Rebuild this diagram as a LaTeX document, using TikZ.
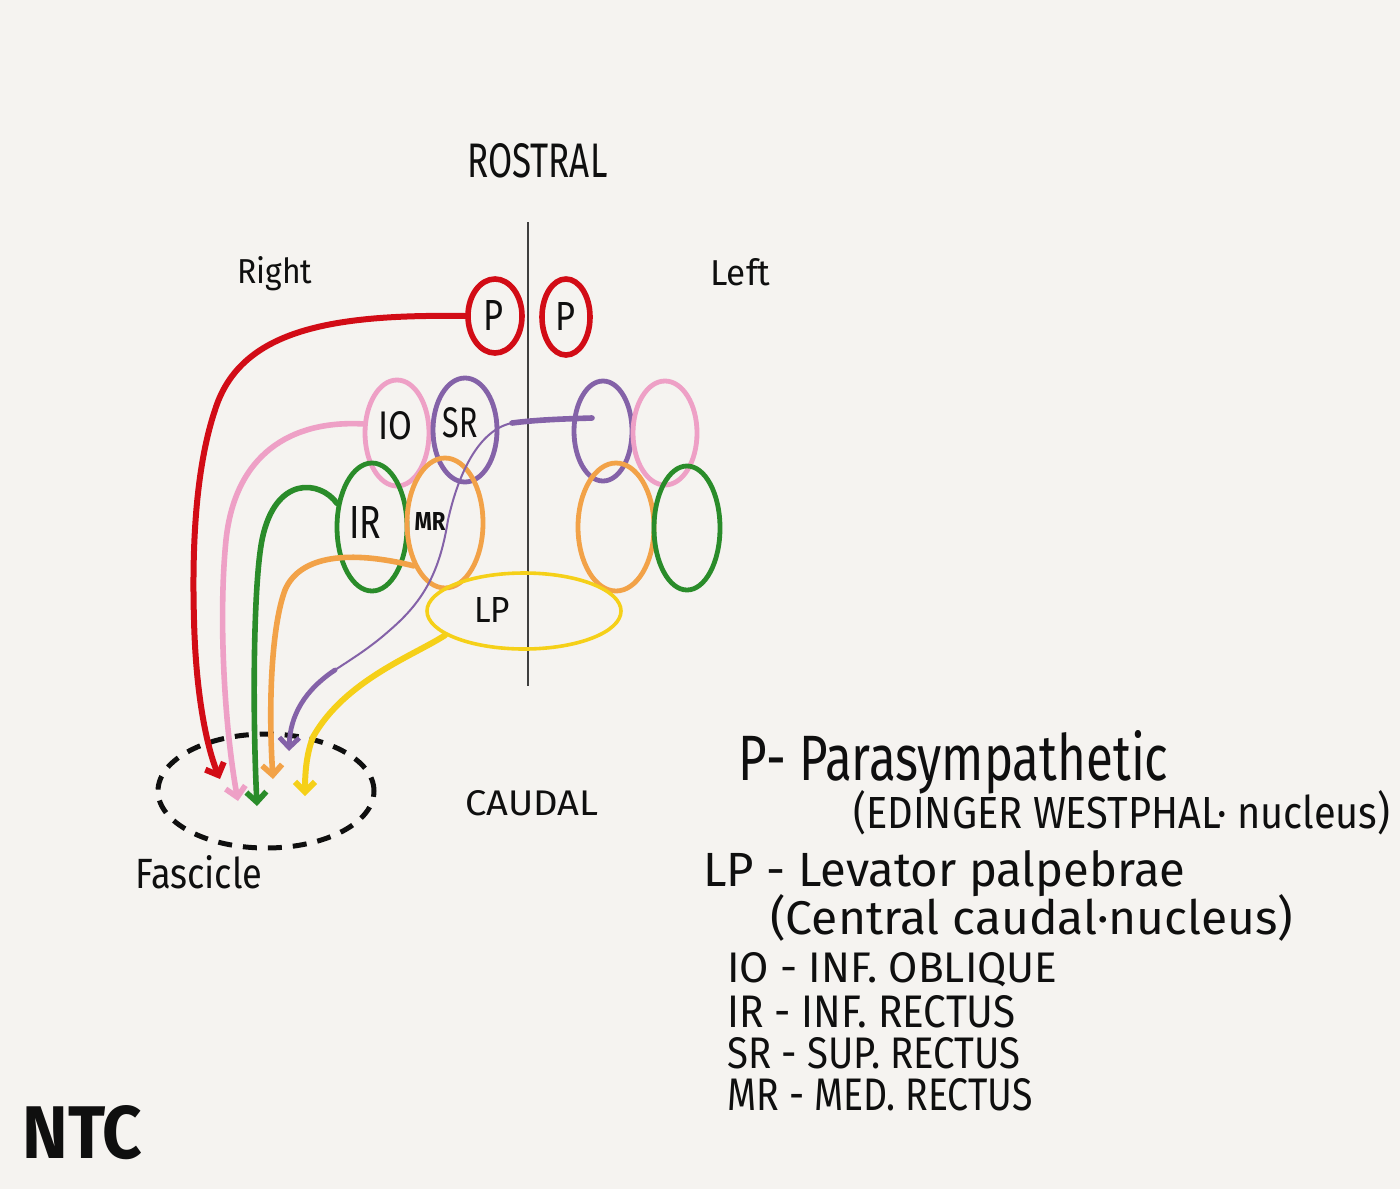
\documentclass[tikz,border=0pt]{standalone}
\usepackage{fontspec}
\setmainfont{Fira Sans}
\usetikzlibrary{shapes.geometric,arrows.meta}
\newdimen\pxu \pxu=0.5pt
\newcommand\hw[3]{\resizebox{#1\pxu}{#2\pxu}{#3}}
\definecolor{paper}{RGB}{245,243,240}
\definecolor{cred}{RGB}{210,12,22}
\definecolor{cpink}{RGB}{238,160,198}
\definecolor{cpurple}{RGB}{132,98,168}
\definecolor{cgreen}{RGB}{42,140,42}
\definecolor{corange}{RGB}{242,162,72}
\definecolor{cyellow}{RGB}{245,208,25}
\definecolor{ink}{RGB}{15,15,15}
\begin{document}
\begin{tikzpicture}[x=0.5pt,y=-0.5pt,
  ov/.style={ellipse, draw, line width=2.4pt, inner sep=0pt},
  lab/.style={inner sep=0pt, text=ink},
  txt/.style={anchor=base west, inner sep=0pt, text=ink},
  conn/.style={line width=2.8pt, line cap=round},
  arr/.style={-{Straight Barb[length=5pt,width=10pt]}}
]
\fill[paper] (0,0) rectangle (1400,1189);
\useasboundingbox (0,0) rectangle (1400,1189);

% midline
\coordinate (mtop) at (528,222);
\coordinate (mbot) at (528,686);
\draw[line width=0.8pt, ink!80] (mtop) -- (mbot);

% headings
\node[txt] (rostral) at (467,177) {\hw{140}{34}{ROSTRAL}};
\node[txt] (right) at (237,283) {\hw{75}{27}{Right}};
\node[txt] (left) at (710,285) {\hw{60}{27}{Left}};
\node[txt] (caudal) at (465,815) {\hw{133}{25}{CAUDAL}};
\node[txt] (fascicle) at (135,888) {\hw{127}{33}{Fascicle}};
\node[txt] (ntc) at (22,1158) {\hw{120}{53}{\bfseries NTC}};

% nuclei, right side
\node[ov, draw=cred, line width=2.8pt, minimum width=27pt, minimum height=37pt] (rP) at (495,316) {};
\node[ov, draw=cpink, minimum width=32pt, minimum height=53pt] (rIO) at (397,433) {};
\node[ov, draw=cpurple, minimum width=32pt, minimum height=52pt] (rSR) at (465,430) {};
\node[ov, draw=cgreen, minimum width=35pt, minimum height=64pt] (rIR) at (372,527) {};
\node[ov, draw=corange, minimum width=38pt, minimum height=65pt] (rMR) at (445,523) {};
% nuclei, left side
\node[ov, draw=cred, line width=2.8pt, minimum width=24pt, minimum height=38pt] (lP) at (566,317) {};
\node[ov, draw=cpurple, minimum width=29pt, minimum height=50pt] (lSR) at (603,431) {};
\node[ov, draw=cpink, minimum width=32pt, minimum height=52pt] (lIO) at (665,433) {};
\node[ov, draw=corange, minimum width=38pt, minimum height=64pt] (lMR) at (616,527) {};
\node[ov, draw=cgreen, minimum width=33pt, minimum height=62pt] (lIR) at (687,528) {};
% central caudal
\node[ov, draw=cyellow, line width=1.8pt, minimum width=97pt, minimum height=38pt] (rLP) at (524,611) {};

% labels inside
\node[lab] (tRP) at (493,315) {\hw{20}{30}{P}};
\node[lab] (tLP) at (565,316) {\hw{20}{28}{P}};
\node[lab] (tIO) at (395,426) {\hw{34}{28}{IO}};
\node[lab] (tSR) at (460,423) {\hw{35}{30}{SR}};
\node[lab] (tIR) at (365,522) {\hw{32}{32}{IR}};
\node[lab] (tMR) at (430,521) {\hw{31}{18}{\bfseries MR}};
\node[lab] (tLPl) at (492,610) {\hw{36}{25}{LP}};

% fascicle
\node[ellipse, draw=ink, dashed, line width=2.5pt, dash pattern=on 7pt off 5.5pt,
      minimum width=108pt, minimum height=57pt, inner sep=0pt] (fasc) at (266,791) {};

% arrow ends
\coordinate (eR) at (220,779);
\coordinate (ePk) at (238,801);
\coordinate (eG) at (257,806);
\coordinate (eO) at (273,779);
\coordinate (ePu) at (289,751);
\coordinate (eY) at (305,796);
\coordinate (puStart) at (592,418);
\coordinate (puA) at (512,423);
\coordinate (puB) at (335,670);

% connectors
\draw[conn, cred, line width=3pt, arr] (rP.west) .. controls (330,314) and (240,330) .. (215,410)
   .. controls (195,470) and (192,550) .. (194,620) .. controls (196,700) and (208,750) .. (eR);
\draw[conn, cpink, arr] (rIO.165) .. controls (290,420) and (235,455) .. (226,540)
   .. controls (218,620) and (225,730) .. (ePk);
\draw[conn, cgreen, arr] (rIR.146) .. controls (320,480) and (275,475) .. (262,540)
   .. controls (254,580) and (252,700) .. (eG);
\draw[conn, corange, arr] (rMR.234) .. controls (350,550) and (300,555) .. (285,590)
   .. controls (272,625) and (268,700) .. (eO);
\draw[conn, cpurple, line width=2.8pt] (puStart) .. controls (560,419) and (535,420) .. (puA);
\draw[cpurple, line width=1pt] (puA) .. controls (478,430) and (458,475) .. (448,520)
   .. controls (440,570) and (425,600) .. (390,630) .. controls (370,648) and (350,660) .. (puB);
\draw[conn, cpurple, line width=2.4pt, arr] (puB) .. controls (305,690) and (290,715) .. (ePu);
\draw[conn, cyellow, line width=3pt, arr] (rLP.197) .. controls (415,655) and (345,680) .. (313,737)
   .. controls (306,755) and (305,775) .. (eY);

% legend
\node[txt] (leg1) at (738,780) {\hw{430}{50}{P- Parasympathetic}};
\node[txt] (leg2) at (853,828) {\hw{537}{38}{(EDINGER WESTPHAL· nucleus)}};
\node[txt] (leg3) at (703,886) {\hw{482}{36}{LP - Levator palpebrae}};
\node[txt] (leg4) at (770,934) {\hw{523}{40}{(Central caudal·nucleus)}};
\node[txt] (leg5) at (727,982) {\hw{330}{30}{IO - INF. OBLIQUE}};
\node[txt] (leg6) at (727,1027) {\hw{288}{32}{IR - INF. RECTUS}};
\node[txt] (leg7) at (727,1068) {\hw{293}{31}{SR - SUP. RECTUS}};
\node[txt] (leg8) at (727,1110) {\hw{305}{32}{MR - MED. RECTUS}};
\end{tikzpicture}
\end{document}
